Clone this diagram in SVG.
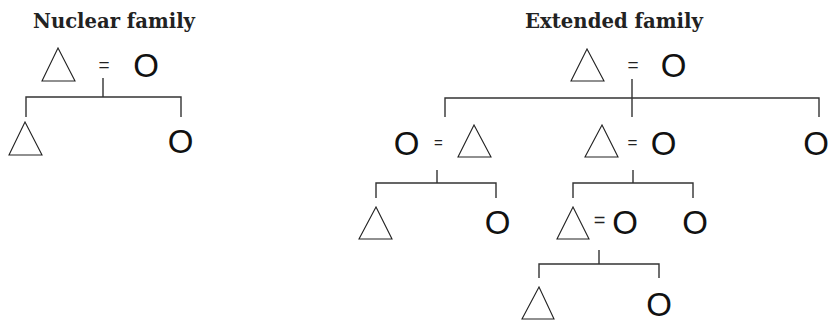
<svg xmlns="http://www.w3.org/2000/svg" width="832" height="320" viewBox="0 0 832 320">
<style>
.title{font-family:"DejaVu Serif","Liberation Serif",serif;font-weight:bold;font-size:19.5px;fill:#222;text-anchor:middle}
.o{font-family:"Liberation Sans",Arial,sans-serif;font-size:33px;fill:#111;text-anchor:middle}
.eq{font-family:"Liberation Sans",Arial,sans-serif;font-size:19px;fill:#222;text-anchor:middle}
.tri{fill:none;stroke:#222;stroke-width:1.1}
.ln{fill:none;stroke:#333;stroke-width:1.4}
</style>
<rect width="832" height="320" fill="#fff"/>
<text class="title" x="114" y="27.5" textLength="162" lengthAdjust="spacingAndGlyphs">Nuclear family</text>
<text class="title" x="614" y="27.5" textLength="178" lengthAdjust="spacingAndGlyphs">Extended family</text>
<g id="connectors">
<path class="ln" d="M103,78V97M26,117V97H181V117"/>
<path class="ln" d="M632,79V117M445,117V98H819V117"/>
<path class="ln" d="M437,170V183M376,198V183H496V198"/>
<path class="ln" d="M633,170V183M573,198V183H693V198"/>
<path class="ln" d="M599,250V264M539,278V264H659V278"/>
</g>
<g id="n-father"><polygon class="tri" points="58,48 42,81 75,81"/></g>
<g id="n-marriage"><text class="eq" x="104" y="71">=</text></g>
<g id="n-mother"><text class="o" x="146" y="76.6">O</text></g>
<g id="n-son"><polygon class="tri" points="25,122 9,155 42,155"/></g>
<g id="n-daughter"><text class="o" x="180.5" y="152.6">O</text></g>

<g id="e-gf"><polygon class="tri" points="587,49 571,81 604,81"/></g>
<g id="e-eq1"><text class="eq" x="633" y="71">=</text></g>
<g id="e-gm"><text class="o" x="673.5" y="76.6">O</text></g>

<g id="e-dau1"><text class="o" x="406.5" y="154.6">O</text></g>
<g id="e-eq2"><text class="eq" x="438.5" y="148" style="font-size:15px">=</text></g>
<g id="e-sil"><polygon class="tri" points="474,125 458,157 491,157"/></g>

<g id="e-son1"><polygon class="tri" points="602,125 585,157 618,157"/></g>
<g id="e-eq3"><text class="eq" x="632.5" y="148" style="font-size:17px">=</text></g>
<g id="e-dil"><text class="o" x="663.5" y="154.6">O</text></g>

<g id="e-dau2"><text class="o" x="816" y="154.6">O</text></g>

<g id="e-gs1"><polygon class="tri" points="376,207 359,239 392,239"/></g>
<g id="e-gd1"><text class="o" x="497.5" y="234">O</text></g>

<g id="e-gs2"><polygon class="tri" points="573,207 557,239 589,239"/></g>
<g id="e-eq4"><text class="eq" x="599.5" y="226.5" style="font-size:20px">=</text></g>
<g id="e-gsw"><text class="o" x="625" y="234">O</text></g>
<g id="e-gd2"><text class="o" x="695" y="234">O</text></g>

<g id="e-ggs"><polygon class="tri" points="539,287 522,319 554,319"/></g>
<g id="e-ggd"><text class="o" x="659" y="316">O</text></g>
</svg>
